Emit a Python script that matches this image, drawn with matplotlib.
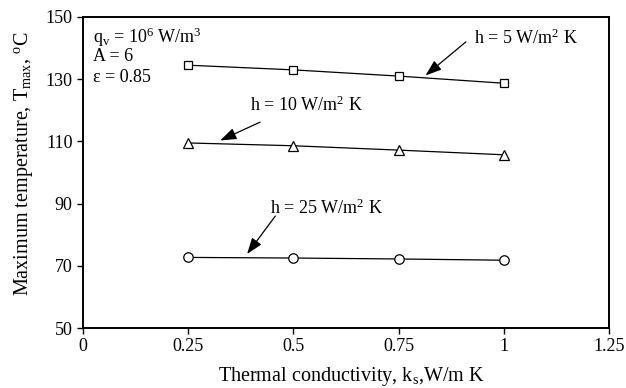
import matplotlib
matplotlib.use('Agg')
import matplotlib.pyplot as plt

plt.rcParams['font.family'] = ['Liberation Serif', 'DejaVu Serif']
plt.rcParams['mathtext.fontset'] = 'custom'
plt.rcParams['mathtext.rm'] = 'Liberation Serif'
plt.rcParams['mathtext.it'] = 'Liberation Serif:italic'

# thermal conductivity k_s (W/m K)
ks = [0.25, 0.5, 0.75, 1.0]
# maximum temperature (C) for each h
t_h5 = [134.5, 133.0, 131.0, 128.7]
t_h10 = [109.5, 108.6, 107.2, 105.7]
t_h25 = [72.7, 72.5, 72.2, 71.8]

xticks = [0, 0.25, 0.5, 0.75, 1, 1.25]
xlabels = ['0', '0.25', '0.5', '0.75', '1', '1.25']
yticks = [50, 70, 90, 110, 130, 150]

fig = plt.figure(figsize=(6.26, 3.88), dpi=100)
ax = fig.add_axes([0.1326, 0.1546, 0.8402, 0.8016])

fs = 13
ax.plot(ks, t_h5, color='black', lw=0.9, marker='s', ms=6.3, mfc='white', mec='black', mew=0.9)
ax.plot(ks, t_h10, color='black', lw=0.9, marker='^', ms=6.8, mfc='white', mec='black', mew=0.9)
ax.plot(ks, t_h25, color='black', lw=0.9, marker='o', ms=6.8, mfc='white', mec='black', mew=0.9)

arrow = dict(arrowstyle='-|>,head_length=0.7,head_width=0.25', color='black', lw=0.9,
             mutation_scale=14, shrinkA=0, shrinkB=0)
ax.annotate('', xy=(0.814, 131.2), xytext=(0.910, 142), arrowprops=arrow)
ax.text(0.929, 143.2, r'h = 5 W/m$^{2}$ K', fontsize=fs, va='center', ha='left')
ax.annotate('', xy=(0.326, 110.3), xytext=(0.421, 116.2), arrowprops=arrow)
ax.text(0.398, 121.7, r'h = 10 W/m$^{2}$ K', fontsize=fs, va='center', ha='left')
ax.annotate('', xy=(0.390, 73.8), xytext=(0.457, 86.0), arrowprops=arrow)
ax.text(0.445, 88.6, r'h = 25 W/m$^{2}$ K', fontsize=fs, va='center', ha='left')

ax.text(0.024, 143.5, r'q$_{\rm v}$ = 10$^{6}$ W/m$^{3}$', fontsize=fs, va='center', ha='left')
ax.text(0.024, 137.4, 'A = 6', fontsize=fs, va='center', ha='left')
ax.text(0.024, 130.6, 'ε = 0.85', fontsize=fs, va='center', ha='left')

ax.set_xlim(0, 1.25)
ax.set_ylim(50, 150)
ax.set_xticks(xticks)
ax.set_xticklabels(xlabels)
ax.set_yticks(yticks)
ax.tick_params(direction='out', length=4, width=1, labelsize=fs)
for s in ax.spines.values():
    s.set_linewidth(1.4)
ax.set_xlabel(r'Thermal conductivity, k$_{\rm s}$,W/m K', fontsize=14.5)
ax.set_ylabel(r'Maximum temperature, T$_{\rm max}$, $^{\rm o}$C', fontsize=14.5)
ax.xaxis.set_label_coords(0.51, -0.12)
ax.yaxis.set_label_coords(-0.092, 0.529)

fig.savefig('out.png', dpi=100)
